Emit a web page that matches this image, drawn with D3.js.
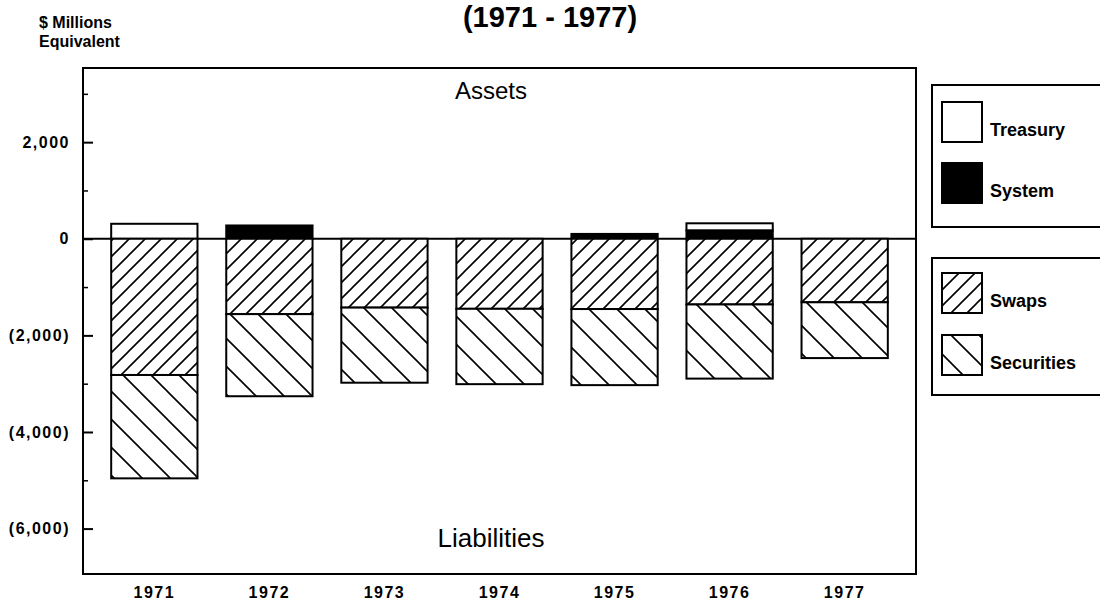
<!DOCTYPE html>
<html>
<head>
<meta charset="utf-8">
<script src="https://cdn.jsdelivr.net/npm/d3@7"></script>
<style>
  body { margin: 0; background: #fff; }
  svg { display: block; font-family: "Liberation Sans", Arial, sans-serif; }
</style>
</head>
<body>
<div id="chart"></div>
<script>
const width = 1100;
const height = 603;

// $ millions equivalent, liabilities negative
const years = ["1971", "1972", "1973", "1974", "1975", "1976", "1977"];
const treasury = [310, 0, 0, 0, 0, 145, 0];
const system = [0, 275, 0, 0, 100, 175, 0];
const swaps = [-2820, -1560, -1425, -1450, -1455, -1360, -1315];
const securities = [-2140, -1700, -1555, -1560, -1575, -1535, -1155];
const majorTicks = [2000, 0, -2000, -4000, -6000];
const minorTicks = [3000, 1000, -1000, -3000, -5000];

const series = [
    { key: "system", label: "System", fill: "#000" },
    { key: "treasury", label: "Treasury", fill: "#fff" },
    { key: "swaps", label: "Swaps", fill: "url(#hatch-swaps)" },
    { key: "securities", label: "Securities", fill: "url(#hatch-securities)" }
];

const table = years.map((y, i) => ({
    year: y,
    system: system[i],
    treasury: treasury[i],
    swaps: swaps[i],
    securities: securities[i]
}));

const plot = { left: 83, right: 916, top: 68, bottom: 574 };

const x = d3.scaleBand()
    .domain(years)
    .range([plot.left, plot.right])
    .paddingInner(0.25)
    .paddingOuter(0.245);

const y = d3.scaleLinear()
    .domain([-6940, 3535])
    .range([plot.bottom, plot.top]);

const stack = d3.stack()
    .keys(series.map(s => s.key))
    .offset(d3.stackOffsetDiverging);
const stacked = stack(table);

const svg = d3.select("#chart")
    .append("svg")
    .attr("width", width)
    .attr("height", height)
    .attr("viewBox", [0, 0, width, height]);

// hatch patterns
const defs = svg.append("defs");
const p1 = defs.append("pattern")
    .attr("id", "hatch-swaps")
    .attr("patternUnits", "userSpaceOnUse")
    .attr("width", 16).attr("height", 16);
p1.append("rect").attr("width", 16).attr("height", 16).attr("fill", "#fff");
p1.append("path")
    .attr("d", "M0,16 L16,0 M-4,4 L4,-4 M12,20 L20,12")
    .attr("stroke", "#000").attr("stroke-width", 1.6);

const p2 = defs.append("pattern")
    .attr("id", "hatch-securities")
    .attr("patternUnits", "userSpaceOnUse")
    .attr("width", 28).attr("height", 28);
p2.append("rect").attr("width", 28).attr("height", 28).attr("fill", "#fff");
p2.append("path")
    .attr("d", "M0,0 L28,28 M-7,21 L7,35 M21,-7 L35,7")
    .attr("stroke", "#000").attr("stroke-width", 1.6);

// title
svg.append("text")
    .attr("x", 550)
    .attr("y", 27)
    .attr("text-anchor", "middle")
    .style("font-size", "29px")
    .style("font-weight", "bold")
    .text("(1971 - 1977)");

// y axis title
svg.append("text")
    .attr("x", 39).attr("y", 28)
    .style("font-size", "16px").style("font-weight", "bold")
    .text("$ Millions");
svg.append("text")
    .attr("x", 39).attr("y", 47)
    .style("font-size", "16px").style("font-weight", "bold")
    .text("Equivalent");

// zero line
svg.append("line")
    .attr("x1", plot.left).attr("x2", plot.right)
    .attr("y1", y(0)).attr("y2", y(0))
    .attr("stroke", "#000").attr("stroke-width", 2);

// bars
const fillFor = Object.fromEntries(series.map(s => [s.key, s.fill]));
svg.append("g")
    .selectAll("g")
    .data(stacked)
    .join("g")
    .attr("fill", d => fillFor[d.key])
    .selectAll("rect")
    .data(d => d.filter(v => v[1] !== v[0]))
    .join("rect")
    .attr("x", d => x(d.data.year))
    .attr("width", x.bandwidth())
    .attr("y", d => y(Math.max(d[0], d[1])))
    .attr("height", d => Math.abs(y(d[0]) - y(d[1])))
    .attr("stroke", "#000")
    .attr("stroke-width", 2);

// frame
svg.append("rect")
    .attr("x", plot.left).attr("y", plot.top)
    .attr("width", plot.right - plot.left)
    .attr("height", plot.bottom - plot.top)
    .attr("fill", "none")
    .attr("stroke", "#000")
    .attr("stroke-width", 2);

// y axis, ticks point inward
const fmt = d3.format(",");
const yAxis = svg.append("g")
    .attr("transform", `translate(${plot.left},0)`)
    .call(d3.axisLeft(y)
        .tickValues(majorTicks)
        .tickSizeInner(-10)
        .tickSizeOuter(0)
        .tickPadding(13)
        .tickFormat(d => d < 0 ? `(${fmt(-d)})` : fmt(d)));
yAxis.select(".domain").remove();
yAxis.selectAll("line").attr("stroke-width", 2);
yAxis.selectAll("text")
    .attr("fill", "#000")
    .style("font-family", "'Liberation Sans', Arial, sans-serif")
    .style("font-size", "16px")
    .style("font-weight", "bold")
    .style("letter-spacing", "1.5px");

const yMinor = svg.append("g")
    .attr("transform", `translate(${plot.left},0)`)
    .call(d3.axisLeft(y)
        .tickValues(minorTicks)
        .tickSizeInner(-5)
        .tickSizeOuter(0)
        .tickFormat(""));
yMinor.select(".domain").remove();
yMinor.selectAll("line").attr("stroke-width", 1.5);

// x axis
const xAxis = svg.append("g")
    .attr("transform", `translate(0,${plot.bottom})`)
    .call(d3.axisBottom(x).tickSize(0).tickPadding(13));
xAxis.select(".domain").remove();
xAxis.selectAll("text")
    .attr("fill", "#000")
    .style("font-family", "'Liberation Sans', Arial, sans-serif")
    .style("font-size", "16px")
    .style("font-weight", "bold")
    .style("letter-spacing", "1.5px");

// in-plot labels
const midX = 491;
svg.append("text")
    .attr("x", midX).attr("y", 99)
    .attr("text-anchor", "middle")
    .style("font-size", "24px")
    .text("Assets");
svg.append("text")
    .attr("x", midX).attr("y", 547)
    .attr("text-anchor", "middle")
    .style("font-size", "26px")
    .text("Liabilities");

// legends (run off the right edge like the original)
const legendBoxes = [
    { y: 85, h: 142, items: [series[1], series[0]], rows: [102, 163] },
    { y: 258, h: 137, items: [series[2], series[3]], rows: [273, 335] }
];
legendBoxes.forEach(box => {
    svg.append("rect")
        .attr("x", 932).attr("y", box.y)
        .attr("width", 200).attr("height", box.h)
        .attr("fill", "none")
        .attr("stroke", "#000")
        .attr("stroke-width", 2);
    box.items.forEach((s, i) => {
        svg.append("rect")
            .attr("x", 942).attr("y", box.rows[i])
            .attr("width", 40).attr("height", 40)
            .attr("fill", s.fill)
            .attr("stroke", "#000")
            .attr("stroke-width", 2);
        svg.append("text")
            .attr("x", 990).attr("y", box.rows[i] + 34)
            .style("font-size", "18px")
            .style("font-weight", "bold")
            .text(s.label);
    });
});
</script>
</body>
</html>
